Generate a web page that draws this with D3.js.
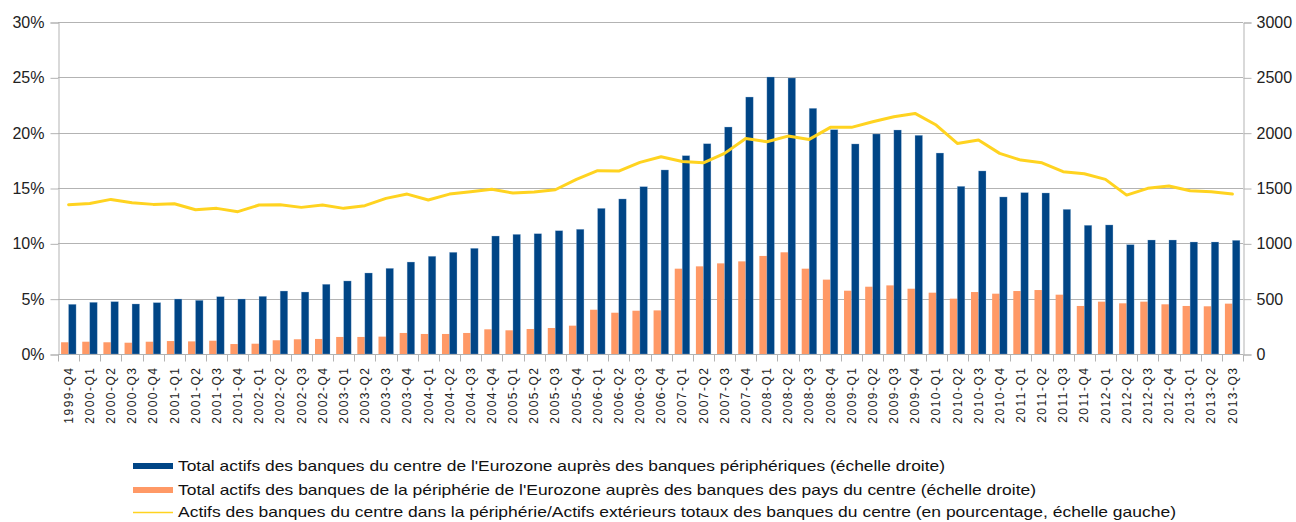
<!DOCTYPE html>
<html>
<head>
<meta charset="utf-8">
<script src="https://cdn.jsdelivr.net/npm/d3@7/dist/d3.min.js"></script>
<style>
  html, body { margin: 0; padding: 0; background: #ffffff; }
  svg { display: block; font-family: "Liberation Sans", Arial, sans-serif; }
</style>
</head>
<body>
<svg id="chart" width="1296" height="522"></svg>
<script>
// Quarterly categories
const categories = [
  "1999-Q4",
  "2000-Q1","2000-Q2","2000-Q3","2000-Q4",
  "2001-Q1","2001-Q2","2001-Q3","2001-Q4",
  "2002-Q1","2002-Q2","2002-Q3","2002-Q4",
  "2003-Q1","2003-Q2","2003-Q3","2003-Q4",
  "2004-Q1","2004-Q2","2004-Q3","2004-Q4",
  "2005-Q1","2005-Q2","2005-Q3","2005-Q4",
  "2006-Q1","2006-Q2","2006-Q3","2006-Q4",
  "2007-Q1","2007-Q2","2007-Q3","2007-Q4",
  "2008-Q1","2008-Q2","2008-Q3","2008-Q4",
  "2009-Q1","2009-Q2","2009-Q3","2009-Q4",
  "2010-Q1","2010-Q2","2010-Q3","2010-Q4",
  "2011-Q1","2011-Q2","2011-Q3","2011-Q4",
  "2012-Q1","2012-Q2","2012-Q3","2012-Q4",
  "2013-Q1","2013-Q2","2013-Q3"
];

// Core-bank claims on periphery banks (right scale)
const coreOnPeriphery = [
  449, 467, 473, 452, 464, 497, 485, 518, 497, 521, 569, 560, 630,
  660, 732, 774, 831, 883, 919, 955, 1066, 1081, 1087, 1114, 1127, 1316, 1401,
  1512, 1663, 1792, 1900, 2051, 2322, 2503, 2494, 2220, 2027, 1898, 1988, 2024, 1976,
  1816, 1515, 1654, 1419, 1458, 1455, 1307, 1163, 1166, 988, 1030, 1030, 1012, 1012, 1027
];

// Periphery-bank claims on core-country banks (right scale)
const peripheryOnCore = [
  106, 111, 106, 102, 111, 117, 114, 120, 90, 93, 124, 133, 136,
  154, 154, 157, 190, 181, 181, 190, 223, 214, 226, 235, 256, 400, 373,
  391, 394, 771, 792, 819, 837, 886, 919, 771, 672, 572, 608, 620, 590,
  554, 500, 560, 545, 569, 578, 536, 434, 473, 458, 473, 449, 434, 431, 455
];

// Share of core-bank periphery claims in total external claims, % (left scale)
const shareOfExternal = [
  13.49, 13.60, 13.97, 13.67, 13.52, 13.58, 13.04, 13.16, 12.86, 13.46, 13.49, 13.25, 13.46,
  13.16, 13.40, 14.06, 14.45, 13.91, 14.45, 14.66, 14.88, 14.54, 14.63, 14.84, 15.78, 16.56, 16.53,
  17.32, 17.83, 17.40, 17.28, 18.13, 19.48, 19.18, 19.69, 19.39, 20.48, 20.48, 20.99, 21.44, 21.74,
  20.69, 19.03, 19.33, 18.13, 17.52, 17.28, 16.47, 16.29, 15.78, 14.36, 14.97, 15.18, 14.75, 14.66, 14.45
];

const leftTicks = [0, 5, 10, 15, 20, 25, 30];
const rightTicks = [0, 500, 1000, 1500, 2000, 2500, 3000];

const legendLabels = [
  "Total actifs des banques du centre de l'Eurozone auprès des banques périphériques (échelle droite)",
  "Total actifs des banques de la périphérie de l'Eurozone auprès des banques des pays du centre (échelle droite)",
  "Actifs des banques du centre dans la périphérie/Actifs extérieurs totaux des banques du centre (en pourcentage, échelle gauche)"
];

const colors = { core: "#004586", periphery: "#ff9966", share: "#ffd320", grid: "#b3b3b3", text: "#222222" };

const svg = d3.select("#chart");
const plot = { left: 58, right: 1243, top: 22, bottom: 354 };

const x = d3.scaleBand().domain(categories).range([plot.left, plot.right]).padding(0);
const sub = d3.scaleBand().domain(["periphery", "core"]).range([0, x.bandwidth()])
  .paddingInner(0).paddingOuter(0.41);
const yL = d3.scaleLinear().domain([0, 30]).range([plot.bottom, plot.top]);
const yR = d3.scaleLinear().domain([0, 3000]).range([plot.bottom, plot.top]);

// Horizontal grid
svg.append("g").selectAll("line").data(leftTicks).join("line")
  .attr("x1", plot.left).attr("x2", plot.right)
  .attr("y1", d => Math.round(yL(d)) + 0.5).attr("y2", d => Math.round(yL(d)) + 0.5)
  .attr("stroke", colors.grid).attr("stroke-width", 1);

// Left axis
const leftAxis = svg.append("g").attr("transform", `translate(${plot.left + 0.5},0.5)`)
  .call(d3.axisLeft(yL).tickValues(leftTicks).tickFormat(d => d + "%").tickSizeOuter(0).tickSize(8).tickPadding(6));
// Right axis
const rightAxis = svg.append("g").attr("transform", `translate(${plot.right + 0.5},0.5)`)
  .call(d3.axisRight(yR).tickValues(rightTicks).tickFormat(d3.format("d")).tickSizeOuter(0).tickSize(8).tickPadding(5));
[leftAxis, rightAxis].forEach(g => {
  g.select(".domain").attr("stroke", colors.grid);
  g.selectAll(".tick line").attr("stroke", colors.grid);
  g.selectAll(".tick text").attr("fill", colors.text).style("font-size", "16px")
    .style("font-family", "'Liberation Sans', Arial, sans-serif");
});

// Bars
const groups = svg.append("g").selectAll("g").data(categories).join("g")
  .attr("transform", d => `translate(${x(d)},0)`);
groups.append("rect")
  .attr("x", sub("periphery")).attr("width", sub.bandwidth())
  .attr("y", (d, i) => yR(peripheryOnCore[i]))
  .attr("height", (d, i) => yR(0) - yR(peripheryOnCore[i]))
  .attr("fill", colors.periphery);
groups.append("rect")
  .attr("x", sub("core")).attr("width", sub.bandwidth())
  .attr("y", (d, i) => yR(coreOnPeriphery[i]))
  .attr("height", (d, i) => yR(0) - yR(coreOnPeriphery[i]))
  .attr("fill", colors.core)
  .attr("stroke", "#9fbfe0").attr("stroke-opacity", 0.5).attr("stroke-width", 0.6);

// Bottom axis
const bottomAxis = svg.append("g").attr("transform", `translate(0,${plot.bottom + 0.5})`);
bottomAxis.append("line").attr("x1", plot.left).attr("x2", plot.right)
  .attr("stroke", colors.grid);
bottomAxis.selectAll("line.tk").data(d3.range(categories.length + 1)).join("line")
  .attr("class", "tk")
  .attr("x1", i => Math.round(plot.left + i * x.step()) + 0.5)
  .attr("x2", i => Math.round(plot.left + i * x.step()) + 0.5)
  .attr("y1", 0).attr("y2", 7).attr("stroke", colors.grid);
bottomAxis.selectAll("text").data(categories).join("text")
  .attr("transform", d => `translate(${x(d) + x.bandwidth() / 2},12) rotate(-90)`)
  .attr("dy", "0.35em")
  .attr("text-anchor", "end")
  .attr("fill", colors.text)
  .style("font-size", "12px")
  .style("letter-spacing", "1.5px")
  .text(d => d);

// Share line
const line = d3.line()
  .x((d, i) => x(categories[i]) + x.bandwidth() / 2)
  .y(d => yL(d));
svg.append("path").datum(shareOfExternal)
  .attr("d", line).attr("fill", "none")
  .attr("stroke", colors.share).attr("stroke-width", 3)
  .attr("stroke-linejoin", "round").attr("stroke-linecap", "round");

// Legend
const legend = svg.append("g");
const legendRows = [
  { y: 466, type: "rect", color: colors.core, width: 767 },
  { y: 490, type: "rect", color: colors.periphery, width: 858 },
  { y: 512, type: "line", color: colors.share, width: 998 }
];
legendRows.forEach((r, i) => {
  if (r.type === "rect") {
    legend.append("rect").attr("x", 133).attr("y", r.y - 3).attr("width", 40).attr("height", 6).attr("fill", r.color);
  } else {
    legend.append("line").attr("x1", 133).attr("x2", 173).attr("y1", r.y + 0.5).attr("y2", r.y + 0.5)
      .attr("stroke", r.color).attr("stroke-width", 1.5);
  }
  legend.append("text").attr("x", 178).attr("y", r.y).attr("dy", "0.35em")
    .attr("fill", "#111").style("font-size", "15px")
    .attr("textLength", r.width).attr("lengthAdjust", "spacingAndGlyphs")
    .text(legendLabels[i]);
});
</script>
</body>
</html>
